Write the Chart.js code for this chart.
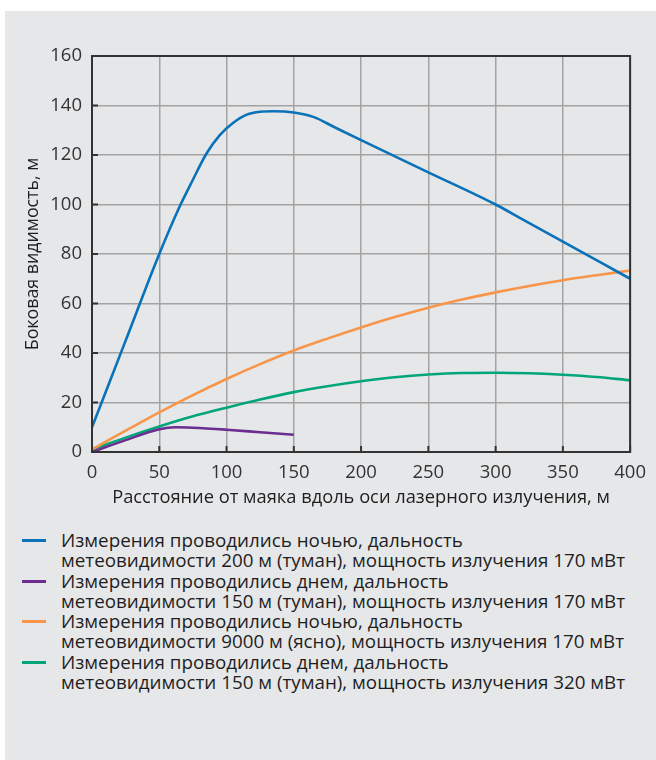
<!DOCTYPE html>
<html>
<head>
<meta charset="utf-8">
<script src="https://cdn.jsdelivr.net/npm/chart.js@4.4.1/dist/chart.umd.min.js"></script>
<style>
  html, body { margin: 0; padding: 0; background: #ffffff; }
  #panel { position: absolute; left: 5px; top: 11px; width: 651px; height: 749px; background: #e6e7e9; }
  #wrap { position: absolute; left: 0; top: 0; width: 656px; height: 520px; }
  #legend { position: absolute; left: 0; top: 530px; width: 656px; font-family: "Open Sans", sans-serif; font-size: 18.8px; color: #1e1e1e; line-height: 20.3px; white-space: nowrap; }
  .item { position: relative; padding-left: 61px; }
  .mark { position: absolute; left: 22px; top: 9px; width: 24px; height: 3px; }
</style>
</head>
<body>
<div id="panel"></div>
<div id="wrap"><canvas id="c" width="656" height="520"></canvas></div>
<div id="legend"></div>
<script>
const xTicks = [0, 50, 100, 150, 200, 250, 300, 350, 400];
const yTicks = [0, 20, 40, 60, 80, 100, 120, 140, 160];

const seriesNames = [
  ["Измерения проводились ночью, дальность", "метеовидимости 200 м (туман), мощность излучения 170 мВт"],
  ["Измерения проводились днем, дальность", "метеовидимости 150 м (туман), мощность излучения 170 мВт"],
  ["Измерения проводились ночью, дальность", "метеовидимости 9000 м (ясно), мощность излучения 170 мВт"],
  ["Измерения проводились днем, дальность", "метеовидимости 150 м (туман), мощность излучения 320 мВт"]
];
const seriesColors = ["#0b72b9", "#6b2e90", "#f7964a", "#00a67a"];

// Night, 200 m fog, 170 mW
const blueX = [0, 25, 50, 65, 75, 85, 95, 105, 115, 125, 135, 150, 165, 180, 200, 250, 300, 320, 350, 400];
const blueY = [10, 45, 80, 99, 110, 120.5, 128, 133, 136.3, 137.5, 137.7, 137.2, 135.3, 131.3, 126, 113, 100, 94, 85, 70];
// Day, 150 m fog, 170 mW
const purpleX = [0, 25, 50, 62, 75, 100, 125, 150];
const purpleY = [0, 4.8, 9.2, 10, 9.8, 9, 8, 7];
// Night, 9000 m clear, 170 mW
const orangeX = [0, 25, 50, 75, 100, 125, 150, 175, 200, 225, 250, 275, 300, 325, 350, 375, 400];
const orangeY = [1, 8.6, 16, 23, 29.5, 35.5, 41, 45.8, 50.3, 54.5, 58.3, 61.6, 64.5, 67.1, 69.4, 71.4, 73.3];
// Day, 150 m fog, 320 mW
const greenX = [0, 25, 50, 75, 100, 125, 150, 175, 200, 225, 250, 275, 300, 325, 350, 375, 400];
const greenY = [1, 5.8, 10.3, 14.4, 17.9, 21.2, 24.2, 26.6, 28.6, 30.2, 31.3, 31.9, 32, 31.8, 31.2, 30.3, 29];

const xTitle = "Расстояние от маяка вдоль оси лазерного излучения, м";
const yTitle = "Боковая видимость, м";

function pts(xs, ys) { return xs.map((x, i) => ({ x: x, y: ys[i] })); }
const allX = [blueX, purpleX, orangeX, greenX];
const allY = [blueY, purpleY, orangeY, greenY];

const datasets = allX.map((xs, i) => ({
  label: seriesNames[i].join(" "),
  data: pts(xs, allY[i]),
  borderColor: seriesColors[i],
  backgroundColor: seriesColors[i],
  borderWidth: 2.6,
  pointRadius: 0,
  cubicInterpolationMode: 'monotone',
  fill: false,
  order: i
}));

const frame = {
  id: 'frame',
  afterDraw(chart) {
    const { ctx, chartArea: a, scales } = chart;
    ctx.save();
    ctx.strokeStyle = '#333333';
    ctx.lineWidth = 2;
    ctx.beginPath();
    scales.x.ticks.forEach(t => {
      const px = scales.x.getPixelForValue(t.value);
      ctx.moveTo(px, a.bottom); ctx.lineTo(px, a.bottom - 6);
    });
    scales.y.ticks.forEach(t => {
      const py = scales.y.getPixelForValue(t.value);
      ctx.moveTo(a.left, py); ctx.lineTo(a.left + 6, py);
    });
    ctx.stroke();
    ctx.strokeRect(a.left, a.top, a.right - a.left, a.bottom - a.top);
    ctx.restore();
  }
};

const tickFont = { family: '"Open Sans", sans-serif', size: 18.5 };
const titleFont = { family: '"Open Sans", sans-serif', size: 18.3 };

new Chart(document.getElementById('c'), {
  type: 'line',
  data: { datasets: datasets },
  options: {
    responsive: false,
    animation: false,
    layout: { padding: { left: 0, top: 56, right: 25, bottom: 0 } },
    plugins: { legend: { display: false }, tooltip: { enabled: false } },
    scales: {
      x: {
        type: 'linear', min: 0, max: 400,
        afterBuildTicks(s) { s.ticks = xTicks.map(v => ({ value: v })); },
        afterFit(s) { s.height = 68; },
        ticks: { color: '#333333', font: tickFont, padding: 10, maxRotation: 0 },
        grid: { color: '#a3a3a3', lineWidth: 1.5, drawTicks: false },
        border: { display: false },
        title: { display: true, text: xTitle, color: '#1e1e1e', font: titleFont, padding: { top: 0, bottom: 11 } }
      },
      y: {
        type: 'linear', min: 0, max: 160,
        afterBuildTicks(s) { s.ticks = yTicks.map(v => ({ value: v })); },
        afterFit(s) { s.width = 92; },
        ticks: { color: '#333333', font: tickFont, padding: 10 },
        grid: { color: '#a3a3a3', lineWidth: 1.5, drawTicks: false },
        border: { display: false },
        title: { display: true, text: yTitle, color: '#1e1e1e', font: { family: '"Open Sans", sans-serif', size: 17.8 }, padding: { top: 22, bottom: 0 } }
      }
    }
  },
  plugins: [frame]
});

const leg = document.getElementById('legend');
seriesNames.forEach((lines, i) => {
  const d = document.createElement('div');
  d.className = 'item';
  const m = document.createElement('span');
  m.className = 'mark';
  m.style.background = seriesColors[i];
  d.appendChild(m);
  lines.forEach(l => { const s = document.createElement('div'); s.textContent = l; d.appendChild(s); });
  leg.appendChild(d);
});
</script>
</body>
</html>
